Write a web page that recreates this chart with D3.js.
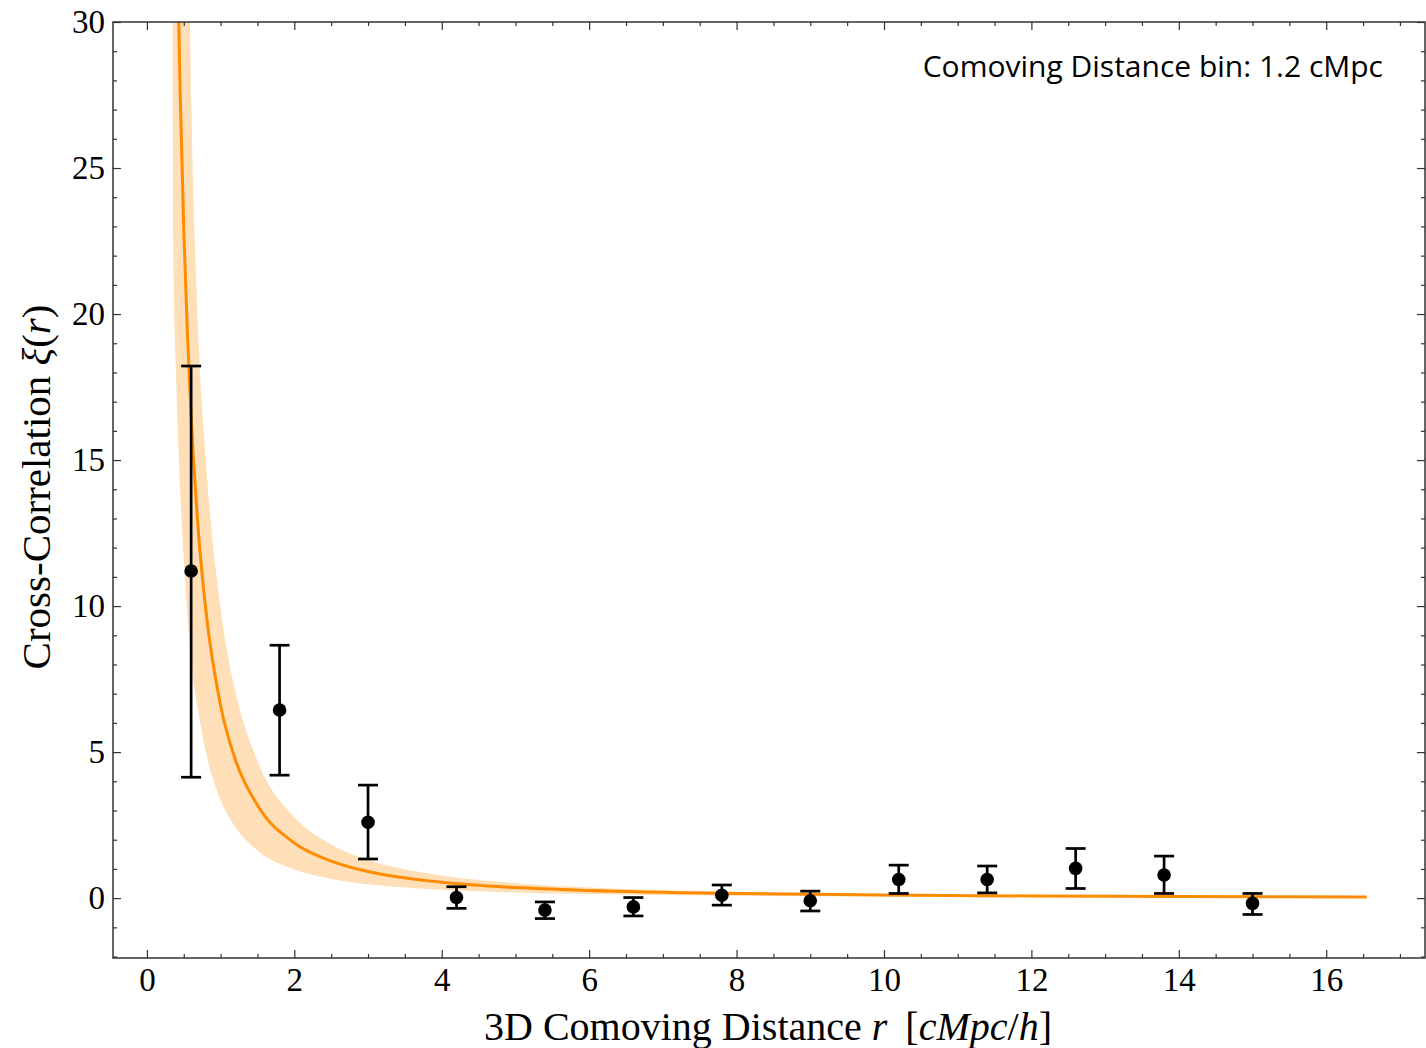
<!DOCTYPE html>
<html>
<head>
<meta charset="utf-8">
<script src="https://cdn.jsdelivr.net/npm/d3@7"></script>
<style>
html,body{margin:0;padding:0;background:#fff;}
svg{display:block;}
</style>
</head>
<body>
<svg id="chart" width="1426" height="1048"></svg>
<script>
// Data points
const rBins = [0.6, 1.8, 3.0, 4.2, 5.4, 6.6, 7.8, 9.0, 10.2, 11.4, 12.6, 13.8, 15.0];
const xiVals = [11.2, 6.44, 2.60, 0.02, -0.41, -0.30, 0.10, -0.09, 0.64, 0.64, 1.02, 0.79, -0.18];
const errHigh = [18.22, 8.66, 3.87, 0.39, -0.13, 0.02, 0.45, 0.24, 1.13, 1.10, 1.70, 1.44, 0.16];
const errLow = [4.14, 4.21, 1.34, -0.35, -0.70, -0.61, -0.24, -0.44, 0.16, 0.18, 0.33, 0.16, -0.56];

// Model curve
const modelR = [0.40, 0.45, 0.50, 0.55, 0.60, 0.70, 0.80, 1.0, 1.2, 1.5, 2.0, 2.5, 3.0, 4.0, 5.0, 6.0, 8.0, 10.0, 12.0, 14.0, 16.55];
const modelXi = [34.3, 27.7, 22.9, 19.3, 16.5, 12.5, 9.85, 6.59, 4.74, 3.18, 1.89, 1.27, 0.91, 0.543, 0.363, 0.262, 0.156, 0.104, 0.075, 0.057, 0.042];

// Uncertainty band
const bandR = [0.34, 0.35, 0.36, 0.394, 0.46, 0.52, 0.55, 0.583, 0.60, 0.65, 0.70, 0.80, 1.0, 1.2, 1.5, 2.0, 2.5, 3.0, 4.0, 5.0, 6.0, 8.0, 10.0, 12.0, 14.0, 16.55];
const bandLow = [40, 28, 21.5, 18.0, 13.5, 10.8, 9.6, 8.7, 8.2, 7.1, 6.33, 5.0, 3.36, 2.43, 1.63, 0.978, 0.657, 0.475, 0.285, 0.191, 0.138, 0.083, 0.056, 0.040, 0.031, 0.023];
const bandHigh = [60, 58, 56, 52, 46, 40, 33, 30, 27.5, 22.5, 19.1, 14.95, 9.92, 7.09, 4.70, 2.77, 1.84, 1.31, 0.774, 0.513, 0.367, 0.216, 0.143, 0.102, 0.077, 0.057];

const xTicks = [0, 2, 4, 6, 8, 10, 12, 14, 16];
const yTicks = [0, 5, 10, 15, 20, 25, 30];

const L = 113, R = 1425, T = 22, B = 958;
const svg = d3.select("#chart");
const x = d3.scaleLinear().domain([-0.46, 17.34]).range([L, R]);
const y = d3.scaleLinear().domain([-2.05, 30]).range([B, T]);

const serif = "'Liberation Serif','DejaVu Serif',serif";
const orange = "#ff8c00";

svg.append("defs").append("clipPath").attr("id", "clip")
  .append("rect").attr("x", L).attr("y", T).attr("width", R - L).attr("height", B - T);

const plot = svg.append("g").attr("clip-path", "url(#clip)");

const bandData = bandR.map((r, i) => ({r, lo: bandLow[i], hi: bandHigh[i]}));
plot.append("path")
  .datum(bandData)
  .attr("fill", orange).attr("fill-opacity", 0.28).attr("stroke", "none")
  .attr("d", d3.area().x(d => x(d.r)).y0(d => y(d.lo)).y1(d => y(d.hi)).curve(d3.curveMonotoneX));

const modelData = modelR.map((r, i) => ({r, v: modelXi[i]}));
plot.append("path")
  .datum(modelData)
  .attr("fill", "none").attr("stroke", orange).attr("stroke-width", 3)
  .attr("d", d3.line().x(d => x(d.r)).y(d => y(d.v)).curve(d3.curveMonotoneX));

// Error bars
const pts = rBins.map((r, i) => ({r, v: xiVals[i], lo: errLow[i], hi: errHigh[i]}));
const eb = plot.append("g");
pts.forEach(d => {
  const cx = x(d.r);
  eb.append("line").attr("x1", cx).attr("x2", cx).attr("y1", y(d.lo)).attr("y2", y(d.hi))
    .attr("stroke", "#000").attr("stroke-width", 2.7);
  [d.lo, d.hi].forEach(v => {
    eb.append("line").attr("x1", cx - 10).attr("x2", cx + 10).attr("y1", y(v)).attr("y2", y(v))
      .attr("stroke", "#000").attr("stroke-width", 2.7);
  });
  eb.append("circle").attr("cx", cx).attr("cy", y(d.v)).attr("r", 6.8).attr("fill", "#000");
});

// Axes (inward ticks, all four sides)
const axisColor = "#333";
function styleAxis(g) {
  g.select(".domain").remove();
  g.selectAll(".tick line").attr("stroke", axisColor).attr("stroke-width", 1.2);
  g.selectAll(".tick text").attr("font-family", serif).attr("font-size", 33).attr("fill", "#000");
}
const xMinor = d3.range(0, 17.5, 0.5).filter(v => v % 2 !== 0);
const yMinor = d3.range(-2, 30.01, 1).filter(v => v % 5 !== 0);

// bottom
svg.append("g").attr("transform", `translate(0,${B})`)
  .call(d3.axisBottom(x).tickValues(xMinor).tickSize(-4).tickFormat(""))
  .call(styleAxis);
svg.append("g").attr("transform", `translate(0,${B})`)
  .call(d3.axisBottom(x).tickValues(xTicks).tickSize(-8).tickPadding(10).tickFormat(d3.format("d")))
  .call(styleAxis)
  .call(g => g.selectAll(".tick text").attr("dy", "0.71em"));
// top
svg.append("g").attr("transform", `translate(0,${T})`)
  .call(d3.axisTop(x).tickValues(xMinor).tickSize(-4).tickFormat("")).call(styleAxis);
svg.append("g").attr("transform", `translate(0,${T})`)
  .call(d3.axisTop(x).tickValues(xTicks).tickSize(-8).tickFormat("")).call(styleAxis);
// left
svg.append("g").attr("transform", `translate(${L},0)`)
  .call(d3.axisLeft(y).tickValues(yMinor).tickSize(-4).tickFormat("")).call(styleAxis);
svg.append("g").attr("transform", `translate(${L},0)`)
  .call(d3.axisLeft(y).tickValues(yTicks).tickSize(-8).tickPadding(8).tickFormat(d3.format("d")))
  .call(styleAxis);
// right
svg.append("g").attr("transform", `translate(${R},0)`)
  .call(d3.axisRight(y).tickValues(yMinor).tickSize(-4).tickFormat("")).call(styleAxis);
svg.append("g").attr("transform", `translate(${R},0)`)
  .call(d3.axisRight(y).tickValues(yTicks).tickSize(-8).tickFormat("")).call(styleAxis);

// frame
svg.append("rect").attr("x", L).attr("y", T).attr("width", R - L).attr("height", B - T)
  .attr("fill", "none").attr("stroke", axisColor).attr("stroke-width", 1.5);

// X label
const xl = svg.append("text").attr("x", 768).attr("y", 1040)
  .attr("text-anchor", "middle").attr("font-family", serif).attr("font-size", 40).attr("fill", "#000");
xl.append("tspan").text("3D Comoving Distance ");
xl.append("tspan").attr("font-style", "italic").text("r");
xl.append("tspan").text("\u2009 [");
xl.append("tspan").attr("font-style", "italic").text("cMpc");
xl.append("tspan").text("/");
xl.append("tspan").attr("font-style", "italic").text("h");
xl.append("tspan").text("]");

// Y label
const yl = svg.append("text").attr("transform", `translate(50,${487}) rotate(-90)`)
  .attr("text-anchor", "middle").attr("font-family", serif).attr("font-size", 41).attr("fill", "#000");
yl.append("tspan").text("Cross-Correlation ");
yl.append("tspan").attr("font-style", "italic").text("ξ");
yl.append("tspan").text("(");
yl.append("tspan").attr("font-style", "italic").text("r");
yl.append("tspan").text(")");

// Annotation
svg.append("text").attr("x", 1383).attr("y", 77).attr("text-anchor", "end")
  .attr("font-family", "'Open Sans','Noto Sans',sans-serif").attr("font-size", 30).attr("fill", "#000")
  .text("Comoving Distance bin: 1.2 cMpc");
</script>
</body>
</html>
